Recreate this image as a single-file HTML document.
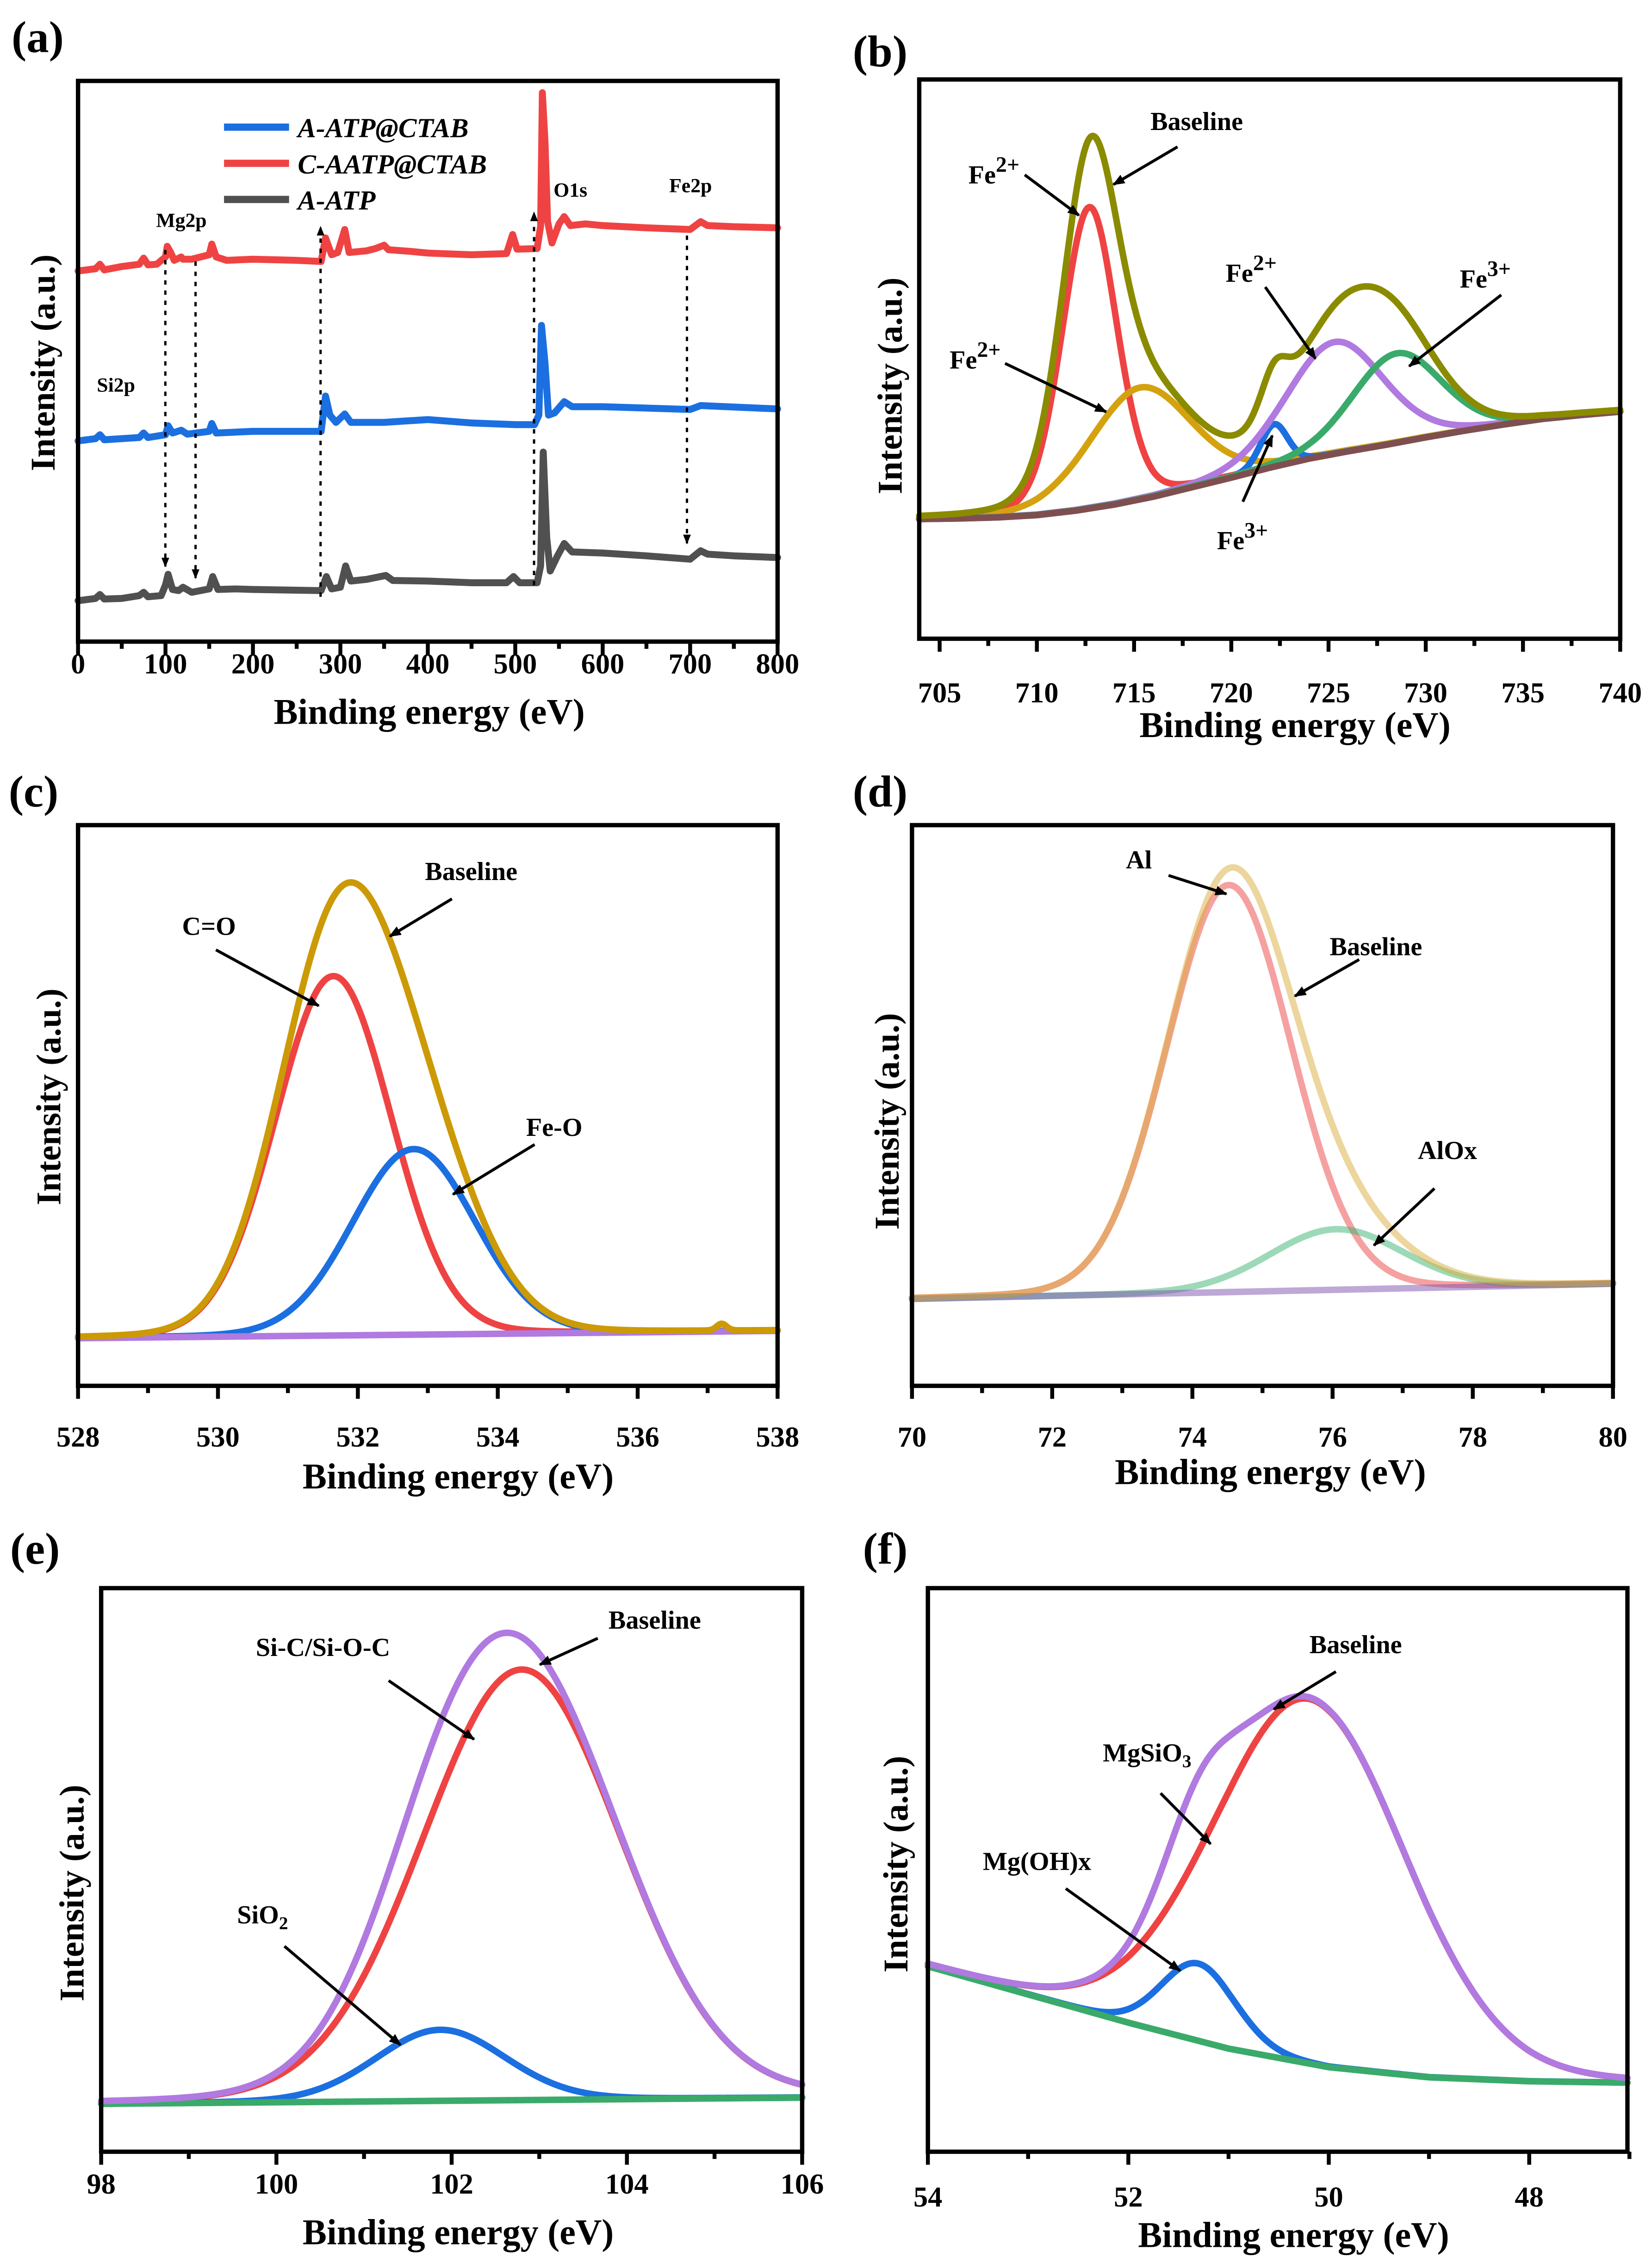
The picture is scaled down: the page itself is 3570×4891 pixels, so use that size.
<!DOCTYPE html>
<html><head><meta charset="utf-8">
<style>
html,body{margin:0;padding:0;background:#fff;}
svg{display:block;}
text{font-family:"Liberation Serif","Times New Roman",serif;font-weight:bold;fill:#000;}
</style></head>
<body>
<svg id="fig" xmlns="http://www.w3.org/2000/svg" width="3570" height="4891" viewBox="0 0 1143 1566" preserveAspectRatio="none">
<defs>
<marker id="ah" viewBox="0 0 10 10" refX="9" refY="5" markerWidth="4.2" markerHeight="4.2" orient="auto" markerUnits="strokeWidth"><path d="M0,1 L10,5 L0,9 z" fill="#000"/></marker>
</defs>
<g id="root"></g>
</svg>
<script>
// ===== Panel (a) survey data =====
const aRedE  = [0,20,25,30,50,70,75,80,90,100,102,106,110,118,120,130,150,153,158,170,200,250,278,283,290,297,305,310,330,340,350,355,380,400,450,490,497,502,525,529,531,534,537,542,550,556,563,580,600,650,700,712,720,750,800];
const aRedI  = [66.1,66.5,67.3,66.3,66.9,67.3,68.4,67.2,67.3,68.6,70.5,69.4,68.0,68.6,68.2,68.2,69.0,70.9,68.6,68.0,68.2,68.0,67.8,72.0,69.0,69.4,73.5,69.4,69.7,70.1,70.7,69.9,69.6,69.3,69.0,69.2,72.6,70.0,70.1,74.1,97.9,89.2,74.9,71.1,74.5,75.8,74.2,74.5,74.2,73.8,73.5,74.9,74.2,74.0,73.8];
const aBlueE = [0,20,25,30,70,75,80,100,103,108,118,125,150,153,158,200,278,283,288,295,305,312,350,400,450,500,522,527,530,534,538,545,556,565,600,700,712,800];
const aBlueI = [35.8,36.2,36.9,36.0,36.4,37.2,36.4,36.9,38.5,37.2,37.7,37.0,37.5,38.9,37.2,37.5,37.5,43.8,40.4,39.1,40.6,39.1,39.1,39.6,39.0,38.7,38.7,40.4,56.4,49.7,40.4,40.8,42.8,41.9,41.9,41.4,42.1,41.5];
const aGrayE = [0,20,25,30,50,70,75,80,95,100,103,108,115,120,130,150,154,160,180,200,278,284,290,300,306,312,330,352,360,400,450,490,498,505,525,529,532,536,540,548,556,565,600,650,700,712,720,750,800];
const aGrayI = [7.3,7.7,8.4,7.6,7.7,8.2,8.8,8.0,8.2,10.1,12.0,9.3,9.1,9.7,8.8,9.4,11.6,9.3,9.4,9.3,9.1,11.6,9.4,9.7,13.5,10.8,11.1,11.8,10.9,10.8,10.5,10.5,11.6,10.5,10.5,13.5,33.8,18.5,12.6,15.2,17.5,16.0,15.8,15.3,14.7,16.2,15.6,15.3,15.0];
const aTicks = [0,100,200,300,400,500,600,700,800];

// ===== Panel (b) Fe2p =====
const bBaseE = [704,706,708,710,712,714,716,718,720,722,724,726,728,730,732,734,736,738,740];
const bBaseI = [21.4,21.5,21.7,22.1,22.9,24.0,25.4,27.1,28.8,30.6,32.2,33.5,34.7,36.0,37.2,38.3,39.3,40.0,40.6];
const bCenters = [712.7,715.3,722.2,725.3,728.5];
const bHeights = [53.9,20.0,7.6,20.0,16.0];
const bSigmas  = [1.4,2.6,0.7,2.5,2.3];
const bTicks = [705,710,715,720,725,730,735,740];

// ===== Panel (c) O1s =====
const cBaseE = [528,538];
const cBaseI = [8.5,9.8];
const cCenters = [531.65,532.8,537.2];
const cHeights = [64.1,33.1,1.2];
const cSigmas  = [0.83,0.88,0.07];
const cTicks = [528,530,532,534,536,538];

// ===== Panel (d) Al2p =====
const dBaseE = [70,80];
const dBaseI = [15.5,18.2];
const dCenters = [74.52,76.05];
const dHeights = [72.6,10.8];
const dSigmas  = [0.89,0.95];
const dTicks = [70,72,74,76,78,80];

// ===== Panel (e) Si2p =====
const eBaseE = [98,106];
const eBaseI = [8.5,9.6];
const eCenters = [102.8,101.87];
const eHeights = [76.4,12.6];
const eSigmas  = [1.14,0.74];
const eTicks = [98,100,102,104,106];

// ===== Panel (f) Mg2p =====
const fBaseE = [54,53,52,51,50,49,48,47];
const fBaseI = [32.9,27.9,22.9,18.3,15.0,13.2,12.5,12.25];
const fCenters = [50.2,51.3];
const fHeights = [64.7,13.7];
const fSigmas  = [0.96,0.37];
const fTicks = [54,52,50,48];

const NS = "http://www.w3.org/2000/svg";
const root = document.getElementById('root');
function mk(tag, attrs, parent){
  const el = document.createElementNS(NS, tag);
  for (const k in attrs) el.setAttribute(k, attrs[k]);
  (parent||root).appendChild(el);
  return el;
}
function interp(xs, ys, x){
  const asc = xs[xs.length-1] > xs[0];
  for (let i=0;i<xs.length-1;i++){
    const a=xs[i], b=xs[i+1];
    if ((asc && x>=a && x<=b) || (!asc && x<=a && x>=b)){
      const t=(x-a)/(b-a); return ys[i]+t*(ys[i+1]-ys[i]);
    }
  }
  return (asc ? (x<xs[0]) : (x>xs[0])) ? ys[0] : ys[ys.length-1];
}
function pv(x,c,h,s,m){
  const g=Math.exp(-(x-c)*(x-c)/(2*s*s));
  const l=1/(1+Math.pow((x-c)/(1.1774*s),2));
  return h*((1-m)*g+m*l);
}
function makeAxes(P){
  const g = mk('g',{});
  
  
  P.g = g;
  P.sx = v => P.L + (v-P.x0)/(P.x1-P.x0)*(P.R-P.L);
  P.sy = v => P.B - v/100*(P.B-P.T);
  for (const t of P.ticks){
    const X=P.sx(t);
    const tk = mk('line',{x1:X,x2:X,y1:P.B,y2:P.B+9,stroke:'#000','stroke-width':2.7},g);
    
    
    const tl = mk('text',{x:X,y:P.tickY,'text-anchor':'middle','font-size':20},g);
    tl.textContent = t;
    
    
  }
  for (const t of P.minor){
    const X=P.sx(t);
    const mt = mk('line',{x1:X,x2:X,y1:P.B,y2:P.B+5,stroke:'#000','stroke-width':2.7},g);
    
    
  }
  const xt = mk('text',{x:P.xtX,y:P.xtY,'text-anchor':'middle','font-size':25},g);
  xt.textContent='Binding energy (eV)';
  
  
  const yt = mk('text',{x:0,y:0,'text-anchor':'middle','dominant-baseline':'central','font-size':24,transform:`translate(${P.ytX},${P.ytY}) rotate(-90)`},g);
  yt.textContent='Intensity (a.u.)';
  
  
  const pl = mk('text',{x:P.lblX,y:P.lblY,'font-size':31},g);
  pl.textContent=P.label;
  
  
}
function frame(P){
  const fr = mk('rect',{x:P.L,y:P.T,width:P.R-P.L,height:P.B-P.T,fill:'none',stroke:'#000','stroke-width':3},P.g);
  
  
}
function line(P, es, is, color, name, w, op){
  let d='';
  for (let i=0;i<es.length;i++) d += (i?'L':'M')+P.sx(es[i]).toFixed(2)+','+P.sy(is[i]).toFixed(2);
  const p = mk('path',{d:d,fill:'none',stroke:color,'stroke-width':w||4.5,'stroke-linejoin':'round','stroke-linecap':'round','stroke-opacity':op||1},P.g);
  
  
  return p;
}
function arrow(P,x1,y1,x2,y2,name,dash){
  const a = mk('line',{x1:x1,y1:y1,x2:x2,y2:y2,stroke:'#000','stroke-width':dash?1.6:2,'marker-end':'url(#ah)'},P.g);
  if (dash) a.setAttribute('stroke-dasharray','3,4');
  
  
}
function label(P,x,y,txt,sup,sub,name,fs){
  fs=fs||18;
  const t = mk('text',{x:x,y:y,'font-size':fs},P.g);
  t.appendChild(document.createTextNode(txt));
  if (sup){ const s=mk('tspan',{dy:-8,'font-size':fs*0.85},t); s.textContent=sup; }
  if (sub){ const s=mk('tspan',{dy:4,'font-size':fs*0.7},t); s.textContent=sub; }
  
  
}
function range(a,b,step){const r=[];for(let v=a;v<=b+1e-9;v+=step)r.push(+v.toFixed(4));return r;}
function fitted(P, baseE, baseI, cs, hs, ss, m, colors, names, envColor, baseColor, op){
  const N=400, es=[];
  for (let i=0;i<=N;i++) es.push(P.x0+(P.x1-P.x0)*i/N);
  const base = es.map(e=>interp(baseE,baseI,e));
  const comps = cs.map((c,k)=>es.map((e,i)=>base[i]+pv(e,c,hs[k],ss[k],m)));
  const env = es.map((e,i)=>base[i]+cs.reduce((s,c,k)=>s+pv(e,c,hs[k],ss[k],m),0));
  P.draw = () => {
    comps.forEach((cv,k)=>{ if(colors[k]) line(P, es, cv, colors[k], names[k], 4.5, op); });
    line(P, es, base, baseColor, 'background-line', 4.5, op);
    line(P, es, env, envColor, 'envelope-line', 4.5, op);
  };
}

// ---------- Panel a ----------
const A = {name:'panel-a',L:54,R:538,T:56,B:444,x0:0,x1:800,ticks:aTicks,minor:range(50,750,100),tickY:466,xtX:297,xtY:501,ytX:30,ytY:251,lblX:8,lblY:36,label:'(a)'};
makeAxes(A);
line(A,aGrayE,aGrayI,'#505050','series-a-atp',4.8);
line(A,aBlueE,aBlueI,'#1b6fe0','series-a-atp-ctab',4.8);
line(A,aRedE,aRedI,'#ef4343','series-c-aatp-ctab',4.8);
arrow(A,114.4,173,114.4,392,'si2p-arrow',true);
arrow(A,135.3,181,135.3,400,'mg2p-arrow',true);
arrow(A,221.8,413,221.8,157,'c1s-arrow',true);
arrow(A,369.5,405,369.5,147,'o1s-arrow',true);
arrow(A,475.3,163,475.3,376,'fe2p-arrow',true);
label(A,108,157,'Mg2p',null,null,'mg2p-label',14);
label(A,67,271,'Si2p',null,null,'si2p-label',14);
label(A,383,136,'O1s',null,null,'o1s-label',14);
label(A,463,133,'Fe2p',null,null,'fe2p-label',14);
const legY=[88,113,138], legC=['#1b6fe0','#ef4343','#505050'], legT=['A-ATP@CTAB','C-AATP@CTAB','A-ATP'];
for (let i=0;i<3;i++){
  const ll = mk('line',{x1:155,x2:200,y1:legY[i],y2:legY[i],stroke:legC[i],'stroke-width':5},A.g);
  
  
  const lt = mk('text',{x:206,y:legY[i]+7,'font-size':19,'font-style':'italic'},A.g);
  lt.textContent=legT[i];
  
  
}
frame(A);

// ---------- Panel b ----------
const Bp = {name:'panel-b',L:636,R:1121,T:55,B:442,x0:703.95,x1:740,ticks:bTicks,minor:range(707.5,737.5,5),tickY:486,xtX:896,xtY:510,ytX:616,ytY:267,lblX:590,lblY:46,label:'(b)'};
makeAxes(Bp);
fitted(Bp,bBaseE,bBaseI,bCenters,bHeights,bSigmas,0.15,['#ef4343','#d4a20f','#1b6fe0','#b07ae0','#3aaa6a'],['fe2p-peak-712','fe2p-peak-715','fe3p-peak-722','fe2p-peak-725','fe3p-peak-728'],'#8b8b00','#7f4f4f');
Bp.draw();
label(Bp,796,90,'Baseline',null,null,'baseline-label');
arrow(Bp,814.7,101.6,770.4,127.7,'baseline-arrow');
label(Bp,670,127,'Fe','2+',null,'fe2-label-1');
arrow(Bp,709,121,746.5,149,'fe2-arrow-1');
label(Bp,657,255,'Fe','2+',null,'fe2-label-2');
arrow(Bp,695.4,251.5,765.3,285,'fe2-arrow-2');
label(Bp,848,195,'Fe','2+',null,'fe2-label-3');
arrow(Bp,875.4,198.6,910.2,248.2,'fe2-arrow-3');
label(Bp,1010,199,'Fe','3+',null,'fe3-label-1');
arrow(Bp,1038.7,204.1,975,253.4,'fe3-arrow-1');
label(Bp,842,380,'Fe','3+',null,'fe3-label-2');
arrow(Bp,859.9,347.2,880.3,301.4,'fe3-arrow-2');
frame(Bp);

// ---------- Panel c ----------
const C = {name:'panel-c',L:54,R:538,T:571,B:959,x0:528,x1:538,ticks:cTicks,minor:range(529,537,2),tickY:1001,xtX:317,xtY:1030,ytX:34,ytY:759,lblX:6,lblY:558,label:'(c)'};
makeAxes(C);
fitted(C,cBaseE,cBaseI,cCenters,cHeights,cSigmas,0.05,['#ef4343','#1b6fe0',null],['c-o-peak','fe-o-peak','noise'],'#cc9a06','#b07ae0');
C.draw();
label(C,294,609,'Baseline',null,null,'baseline-label');
arrow(C,312.7,622,269.7,647.9,'baseline-arrow');
label(C,126,647,'C=O',null,null,'c-o-label');
arrow(C,149.4,657.3,220.5,696,'c-o-arrow');
label(C,364,786,'Fe-O',null,null,'fe-o-label');
arrow(C,369.9,792,313.4,826.5,'fe-o-arrow');
frame(C);

// ---------- Panel d ----------
const D = {name:'panel-d',L:631,R:1116,T:571,B:959,x0:70,x1:80,ticks:dTicks,minor:range(71,79,2),tickY:1001,xtX:879,xtY:1027,ytX:614,ytY:776,lblX:590,lblY:558,label:'(d)'};
makeAxes(D);
fitted(D,dBaseE,dBaseI,dCenters,dHeights,dSigmas,0.05,['#ee4444','#3cb371'],['al-peak','alox-peak'],'#d9ae3c','#7b52ae',0.5);
D.draw();
label(D,779,601,'Al',null,null,'al-label');
arrow(D,808.5,605.8,848.5,618.6,'al-arrow');
label(D,920,661,'Baseline',null,null,'baseline-label');
arrow(D,940.4,664,895.9,689.3,'baseline-arrow');
label(D,981,802,'AlOx',null,null,'alox-label');
arrow(D,992.5,822.4,950.6,861.8,'alox-arrow');
frame(D);

// ---------- Panel e ----------
const E = {name:'panel-e',L:70,R:555,T:1099,B:1489,x0:98,x1:106,ticks:eTicks,minor:range(99,105,2),tickY:1518,xtX:317,xtY:1553,ytX:50,ytY:1310,lblX:7,lblY:1082,label:'(e)'};
makeAxes(E);
fitted(E,eBaseE,eBaseI,eCenters,eHeights,eSigmas,0.08,['#ef4343','#1b6fe0'],['si-c-peak','sio2-peak'],'#b07ae0','#3aaa6a');
E.draw();
label(E,421,1127,'Baseline',null,null,'baseline-label');
arrow(E,413.6,1133.7,373.5,1151.9,'baseline-arrow');
label(E,177,1146,'Si-C/Si-O-C',null,null,'si-c-label');
arrow(E,268.9,1163,328,1203.6,'si-c-arrow');
label(E,164,1331,'SiO',null,'2','sio2-label');
arrow(E,196.8,1346.8,277,1415,'sio2-arrow');
frame(E);

// ---------- Panel f ----------
const F = {name:'panel-f',L:642,R:1126,T:1099,B:1489,x0:54,x1:47.02,ticks:fTicks,minor:[53,51,49,47],tickY:1527,xtX:895,xtY:1555,ytX:620,ytY:1290,lblX:597,lblY:1082,label:'(f)'};
makeAxes(F);
fitted(F,fBaseE,fBaseI,fCenters,fHeights,fSigmas,0.08,['#ef4343','#1b6fe0'],['mgsio3-peak','mgohx-peak'],'#b07ae0','#3aaa6a');
F.draw();
label(F,906,1144,'Baseline',null,null,'baseline-label');
arrow(F,924.3,1156.8,881.3,1182.8,'baseline-arrow');
label(F,763,1219,'MgSiO',null,'3','mgsio3-label');
arrow(F,803,1240.9,837.6,1276,'mgsio3-arrow');
label(F,680,1294,'Mg(OH)x',null,null,'mgohx-label');
arrow(F,737.4,1306.9,816.5,1363.7,'mgohx-arrow');
frame(F);
</script>
</body></html>
